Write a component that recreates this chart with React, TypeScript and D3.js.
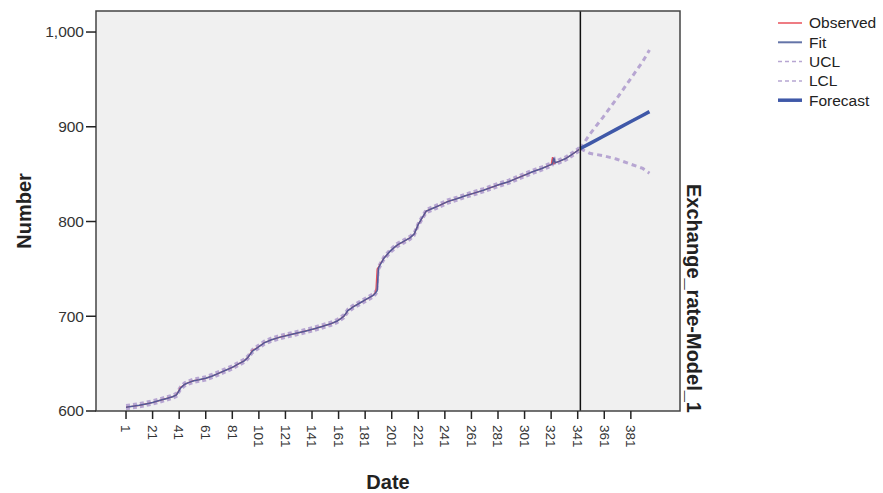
import React from "react";
import * as d3 from "d3";

const dates = [1, 6, 11, 16, 21, 26, 31, 36, 39, 42, 45, 48, 52, 56, 61, 66, 71, 76, 81, 86, 90, 93, 96, 100, 105, 110, 117, 123, 129, 135, 142, 148, 155, 160, 165, 168, 172, 177, 182, 187, 189, 190, 191, 195, 200, 205, 210, 215, 218, 221, 224, 227, 232, 237, 243, 250, 257, 263, 270, 276, 282, 289, 295, 301, 307, 314, 319, 321, 322, 323, 324, 327, 332, 337, 342];

const observed = [604, 605, 606, 607.5, 609, 611, 613, 615, 617, 625,
  628, 630, 632, 633, 634.5, 637, 640, 643, 646, 650,
  653, 657, 664, 667, 672, 675, 678, 680, 682, 684,
  686.5, 689, 692, 695, 700, 706, 710, 714, 718, 722,
  726, 750, 752, 761, 769, 775, 779, 783, 787, 797,
  804, 811, 814, 817, 821, 824, 827.5, 830, 833, 836,
  839, 842, 845.5, 849, 852.5, 856, 859, 860, 868, 861,
  862, 863.5, 866.5, 871, 876];

const fit = [604, 605, 606, 607.5, 609, 611, 613, 615, 617, 624,
  628, 630, 632, 633, 634.5, 637, 640, 643, 646, 650,
  653, 657, 663, 667, 672, 675, 678, 680, 682, 684,
  686.5, 689, 692, 695, 700, 706, 710, 714, 718, 722,
  725, 727, 751, 761, 769, 775, 779, 783, 787, 797,
  804, 811, 814, 817, 821, 824, 827.5, 830, 833, 836,
  839, 842, 845.5, 849, 852.5, 856, 859, 860, 861, 867,
  862, 863.5, 866.5, 871, 876];

const ucl = [606, 607, 608, 609.5, 611, 613, 615, 617, 619, 626,
  630, 632, 634, 635, 636.5, 639, 642, 645, 648, 652,
  655, 659, 665, 669, 674, 677, 680, 682, 684, 686,
  688.5, 691, 694, 697, 702, 708, 712, 716, 720, 724,
  727, 729, 753, 763, 771, 777, 781, 785, 789, 799,
  806, 813, 816, 819, 823, 826, 829.5, 832, 835, 838,
  841, 844, 847.5, 851, 854.5, 858, 861, 862, 863, 869,
  864, 865.5, 868.5, 873, 878];

const lcl = [602, 603, 604, 605.5, 607, 609, 611, 613, 615, 622,
  626, 628, 630, 631, 632.5, 635, 638, 641, 644, 648,
  651, 655, 661, 665, 670, 673, 676, 678, 680, 682,
  684.5, 687, 690, 693, 698, 704, 708, 712, 716, 720,
  723, 725, 749, 759, 767, 773, 777, 781, 785, 795,
  802, 809, 812, 815, 819, 822, 825.5, 828, 831, 834,
  837, 840, 843.5, 847, 850.5, 854, 857, 858, 859, 865,
  860, 861.5, 864.5, 869, 874];

const forecastDates = [343, 350, 360, 370, 380, 390, 395];
const forecast = [877, 882.25, 889.75, 897.25, 904.75, 912.25, 916];
const forecastUCL = [877, 892, 910, 929, 949, 969, 981];
const forecastLCL = [877, 872, 869.5, 866, 861, 856, 851];

const forecastStart = 343;
const xTicks = [1, 21, 41, 61, 81, 101, 121, 141, 161, 181, 201, 221, 241, 261, 281, 301, 321, 341, 361, 381];
const yTicks = [600, 700, 800, 900, 1000];

const legendItems = [
  { label: "Observed", color: "#e8505a", width: 1.5, dash: "" },
  { label: "Fit", color: "#6474a8", width: 2, dash: "" },
  { label: "UCL", color: "#b7a6d2", width: 1.5, dash: "4,3" },
  { label: "LCL", color: "#b7a6d2", width: 1.5, dash: "4,3" },
  { label: "Forecast", color: "#3f58a8", width: 3.5, dash: "" },
];

const FONT = "'Liberation Sans', Arial, sans-serif";

export default function App() {
  const left = 96, right = 680, top = 11, bottom = 411;
  const x = d3.scaleLinear().domain([-21.6, 418]).range([left, right]);
  const y = d3.scaleLinear().domain([600, 1022.2]).range([bottom, top]);
  const fmt = d3.format(",");

  const line = d3.line<[number, number]>().x((d) => x(d[0])).y((d) => y(d[1]));
  const pts = (xs: number[], ys: number[]) => xs.map((d, i) => [d, ys[i]] as [number, number]);

  return (
    <svg width={883} height={493} style={{ position: "absolute", left: 0, top: 0, background: "#fff" }} fontFamily={FONT}>
      <rect x={left} y={top} width={right - left} height={bottom - top} fill="#f0f0f0" />
      <path d={line(pts(dates, ucl)) || ""} fill="none" stroke="#b7a6d2" strokeWidth={2.5} strokeDasharray="4,3" />
      <path d={line(pts(dates, lcl)) || ""} fill="none" stroke="#b7a6d2" strokeWidth={2.5} strokeDasharray="4,3" />
      <path d={line(pts(forecastDates, forecastUCL)) || ""} fill="none" stroke="#b7a6d2" strokeWidth={3} strokeDasharray="5,4" />
      <path d={line(pts(forecastDates, forecastLCL)) || ""} fill="none" stroke="#b7a6d2" strokeWidth={3} strokeDasharray="5,4" />
      <path d={line(pts(dates, observed)) || ""} fill="none" stroke="#e8505a" strokeWidth={1.2} />
      <path d={line(pts(dates, fit)) || ""} fill="none" stroke="#525a98" strokeWidth={1.5} />
      <path d={line(pts(forecastDates, forecast)) || ""} fill="none" stroke="#3f58a8" strokeWidth={3.5} />
      <line x1={x(forecastStart)} x2={x(forecastStart)} y1={top} y2={bottom} stroke="#111" strokeWidth={1.5} />
      <rect x={left} y={top} width={right - left} height={bottom - top} fill="none" stroke="#444" strokeWidth={1.5} />

      {yTicks.map((t) => (
        <g key={t}>
          <line x1={left - 10} x2={left} y1={y(t)} y2={y(t)} stroke="#222" strokeWidth={1.5} />
          <text x={left - 12} y={y(t)} dy="0.35em" textAnchor="end" fontSize={15.5} fill="#333">{fmt(t)}</text>
        </g>
      ))}
      {xTicks.map((t) => (
        <g key={t}>
          <line x1={x(t)} x2={x(t)} y1={bottom} y2={bottom + 8} stroke="#222" strokeWidth={1.5} />
          <text transform={`translate(${x(t)},${bottom + 14}) rotate(90)`} dy="0.35em" textAnchor="start" fontSize={13.5} fill="#333">{t}</text>
        </g>
      ))}

      <text x={(left + right) / 2} y={489} textAnchor="middle" fontSize={20} fontWeight="bold" fill="#222">Date</text>
      <text transform={`translate(31,${(top + bottom) / 2}) rotate(-90)`} textAnchor="middle" fontSize={20} fontWeight="bold" fill="#222">Number</text>
      <text transform={`translate(687,${bottom + 2}) rotate(90)`} textAnchor="end" fontSize={20} fontWeight="bold" fill="#222">Exchange_rate-Model_1</text>

      {legendItems.map((it, i) => {
        const ly = 23 + i * 19.3;
        return (
          <g key={it.label}>
            <line x1={778} x2={802} y1={ly} y2={ly} stroke={it.color} strokeWidth={it.width} strokeDasharray={it.dash} />
            <text x={809} y={ly} dy="0.35em" fontSize={15.5} fill="#222">{it.label}</text>
          </g>
        );
      })}
    </svg>
  );
}
